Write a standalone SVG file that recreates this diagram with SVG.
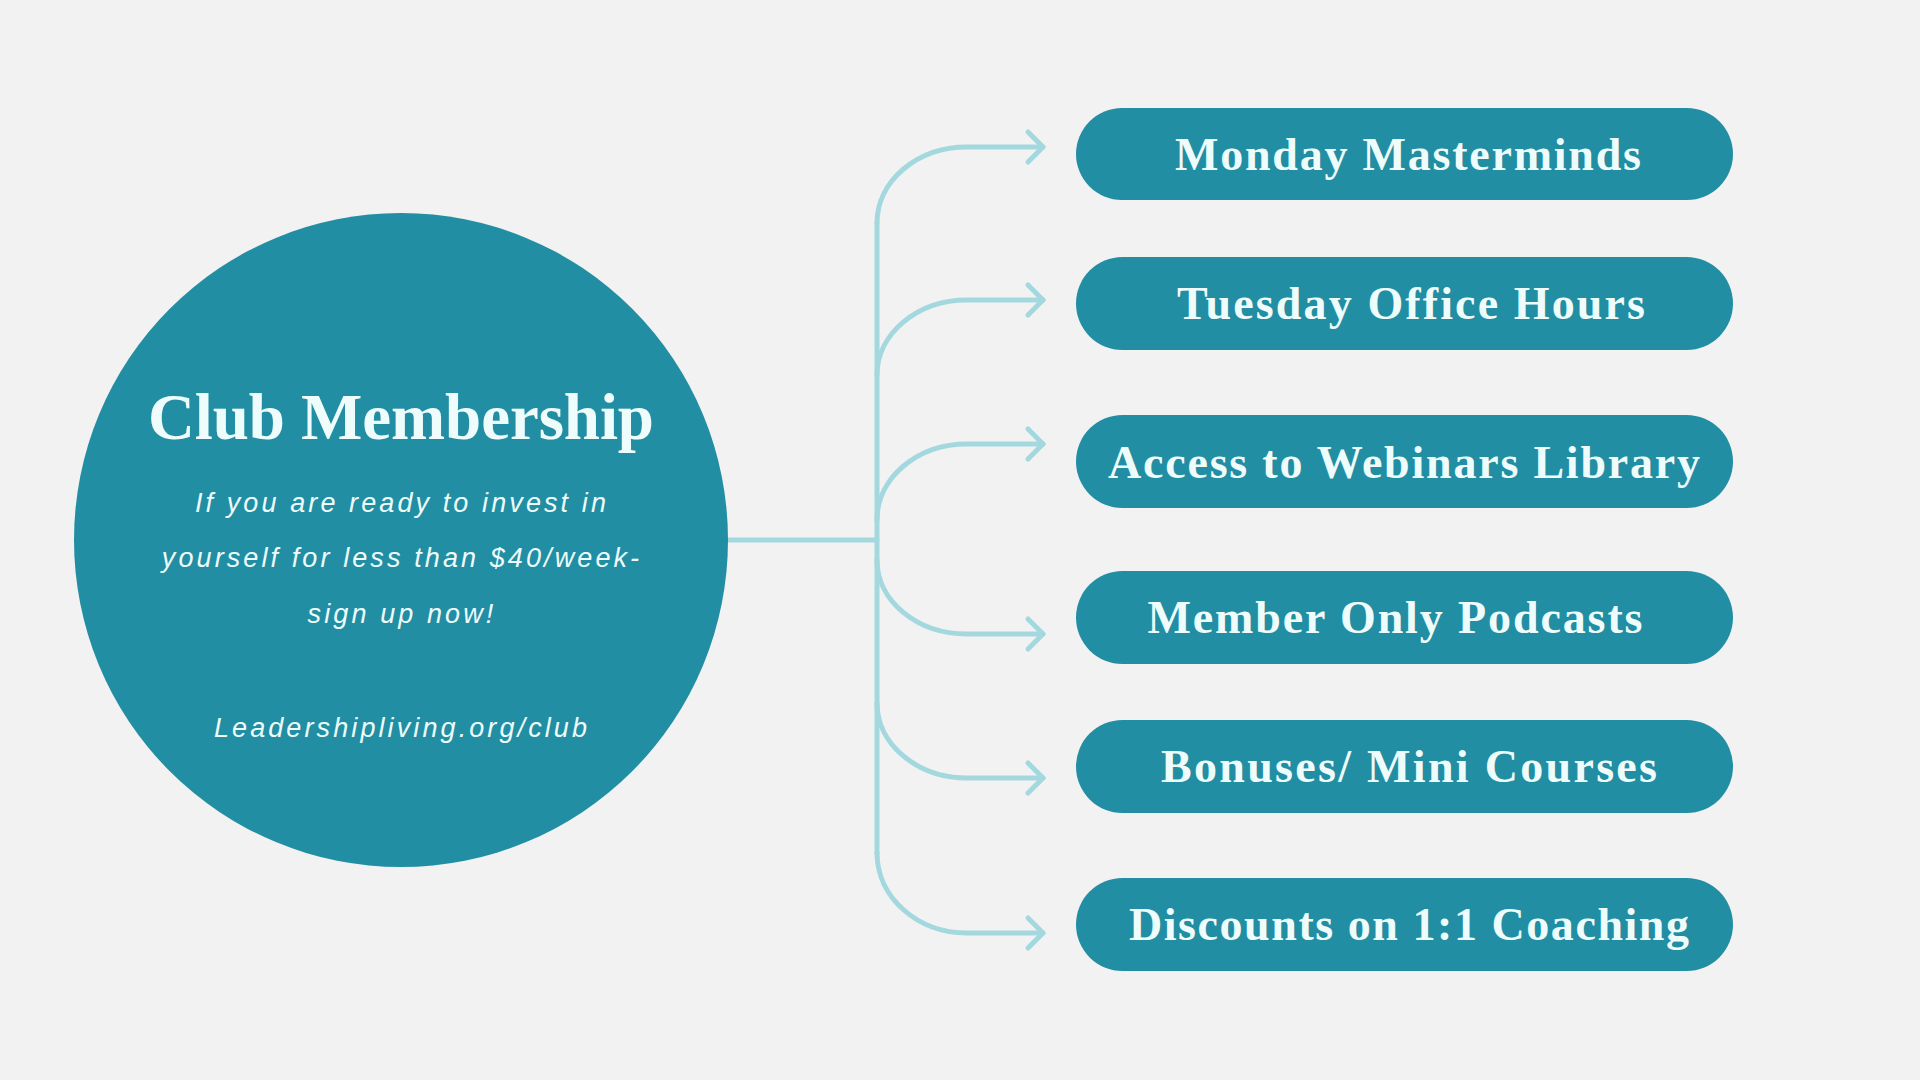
<svg xmlns="http://www.w3.org/2000/svg" width="1920" height="1080" viewBox="0 0 1920 1080">
  <style>
    .bg { fill: #f2f2f2; }
    .teal { fill: #218ea3; }
    .conn { fill: none; stroke: #a3d8df; stroke-width: 5; stroke-linecap: round; stroke-linejoin: round; }
    .title { font-family: "Liberation Serif", "DejaVu Serif", serif; font-weight: bold; font-size: 65px; fill: #eefcfc; text-anchor: middle; }
    .sub { font-family: "Liberation Sans", Arial, sans-serif; font-style: italic; font-size: 27px; fill: #eefcfc; text-anchor: middle; letter-spacing: 3.1px; }
    .pill-text { font-family: "Liberation Serif", "DejaVu Serif", serif; font-weight: bold; font-size: 46px; fill: #eefcfc; text-anchor: middle; }
  </style>
  <defs>
    <marker id="chev" markerUnits="userSpaceOnUse" viewBox="-20 -20 24 40" markerWidth="24" markerHeight="40" refX="0" refY="0" orient="auto">
      <path d="M-15,-15 L0,0 L-15,15" fill="none" stroke="#a3d8df" stroke-width="5" stroke-linecap="round" stroke-linejoin="round"/>
    </marker>
  </defs>
  <rect class="bg" x="0" y="0" width="1920" height="1080"/>

  <g id="connectors">
    <path class="conn" d="M727,540 L877,540"/>
    <path class="conn" d="M877,223 L877,853"/>
    <path class="conn" marker-end="url(#chev)" d="M877,223 C877,181 917,147 967,147 L1043,147"/>
    <path class="conn" marker-end="url(#chev)" d="M877,375 C877,334 917,300 967,300 L1043,300"/>
    <path class="conn" marker-end="url(#chev)" d="M877,520 C877,478 917,444 967,444 L1043,444"/>
    <path class="conn" marker-end="url(#chev)" d="M877,560 C877,601 917,634 967,634 L1043,634"/>
    <path class="conn" marker-end="url(#chev)" d="M877,703 C877,744 917,778 967,778 L1043,778"/>
    <path class="conn" marker-end="url(#chev)" d="M877,853 C877,897 917,933 967,933 L1043,933"/>
  </g>

  <g id="club-membership">
    <circle class="teal" cx="401" cy="540" r="327"/>
    <text class="title" x="401" y="439" textLength="506" lengthAdjust="spacing">Club Membership</text>
    <text class="sub" x="402" y="512">If you are ready to invest in</text>
    <text class="sub" x="402" y="567">yourself for less than $40/week-</text>
    <text class="sub" x="402" y="623">sign up now!</text>
    <text class="sub" x="402" y="737">Leadershipliving.org/club</text>
  </g>

  <g id="monday-masterminds">
    <rect class="teal" x="1076" y="108" width="657" height="92" rx="46"/>
    <text class="pill-text" x="1408" y="170" textLength="466" lengthAdjust="spacing">Monday Masterminds</text>
  </g>
  <g id="tuesday-office-hours">
    <rect class="teal" x="1076" y="257" width="657" height="93" rx="46.5"/>
    <text class="pill-text" x="1411" y="319" textLength="468" lengthAdjust="spacing">Tuesday Office Hours</text>
  </g>
  <g id="access-webinars">
    <rect class="teal" x="1076" y="415" width="657" height="93" rx="46.5"/>
    <text class="pill-text" x="1404" y="478" textLength="592" lengthAdjust="spacing">Access to Webinars Library</text>
  </g>
  <g id="member-podcasts">
    <rect class="teal" x="1076" y="571" width="657" height="93" rx="46.5"/>
    <text class="pill-text" x="1395" y="633" textLength="495" lengthAdjust="spacing">Member Only Podcasts</text>
  </g>
  <g id="bonuses-mini-courses">
    <rect class="teal" x="1076" y="720" width="657" height="93" rx="46.5"/>
    <text class="pill-text" x="1409" y="782" textLength="496" lengthAdjust="spacing">Bonuses/ Mini Courses</text>
  </g>
  <g id="discounts-coaching">
    <rect class="teal" x="1076" y="878" width="657" height="93" rx="46.5"/>
    <text class="pill-text" x="1409" y="940" textLength="560" lengthAdjust="spacing">Discounts on 1:1 Coaching</text>
  </g>
</svg>
